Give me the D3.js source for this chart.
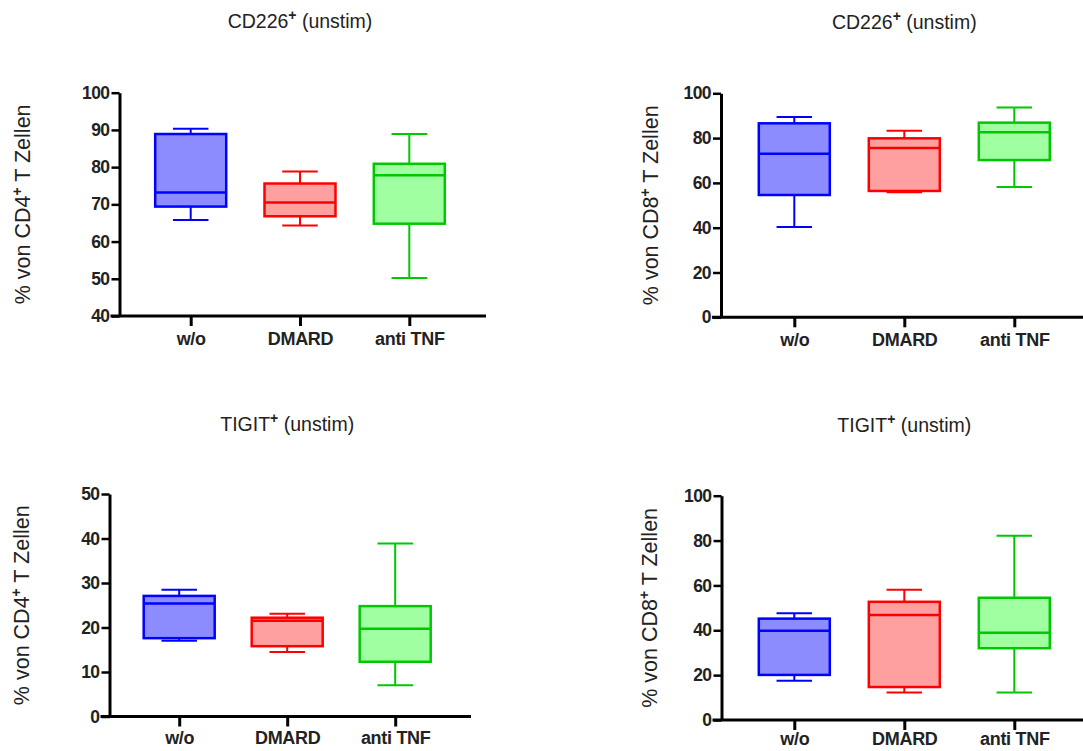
<!DOCTYPE html>
<html>
<head>
<meta charset="utf-8">
<script src="https://cdn.jsdelivr.net/npm/d3@7"></script>
<style>
  body { margin: 0; background: #fff; }
  svg { font-family: "Liberation Sans", Arial, sans-serif; }
</style>
</head>
<body>
<div id="chart"></div>
<script>
// Data (min, q1, median, q3, max) per group

const categories = ["w/o", "DMARD", "anti TNF"];

const cd226CD4 = [
  [65.8, 69.4, 73.2, 88.9, 90.3],
  [64.3, 66.8, 70.5, 75.6, 78.8],
  [50.2, 64.8, 77.8, 80.9, 88.9],
];
const cd226CD8 = [
  [40.3, 54.6, 73.0, 86.6, 89.4],
  [55.8, 56.4, 75.6, 79.9, 83.3],
  [58.2, 70.2, 82.6, 86.9, 93.7],
];
const tigitCD4 = [
  [17.0, 17.6, 25.4, 27.1, 28.5],
  [14.5, 15.8, 21.5, 22.2, 23.1],
  [7.0, 12.3, 19.7, 24.8, 38.9],
];
const tigitCD8 = [
  [17.5, 20.1, 39.8, 45.2, 47.6],
  [12.3, 14.7, 46.8, 52.7, 58.1],
  [12.3, 32.0, 38.9, 54.5, 82.2],
];

const ticksCD226CD4 = [40, 50, 60, 70, 80, 90, 100];
const ticksCD226CD8 = [0, 20, 40, 60, 80, 100];
const ticksTigitCD4 = [0, 10, 20, 30, 40, 50];
const ticksTigitCD8 = [0, 20, 40, 60, 80, 100];

const strokeColors = ["#0000ff", "#ff0000", "#00c800"];
const fillColors = ["#8c8cff", "#ffa0a0", "#a0ffa0"];

const panels = [
  { marker: "CD226", cell: "CD4", data: cd226CD4, ticks: ticksCD226CD4,
    left: 119.5, top: 92.7, bottom: 316, right: 486, first: 71.2, step: 109.3, labelX: 22, titleY: 28, pad: 6 },
  { marker: "CD226", cell: "CD8", data: cd226CD8, ticks: ticksCD226CD8,
    left: 721, top: 93.3, bottom: 317.3, right: 1090, first: 73.3, step: 110, labelX: 650, titleY: 29, pad: 6 },
  { marker: "TIGIT", cell: "CD4", data: tigitCD4, ticks: ticksTigitCD4,
    left: 109.5, top: 494, bottom: 716.5, right: 471, first: 69.7, step: 108, labelX: 21, titleY: 431, pad: 5 },
  { marker: "TIGIT", cell: "CD8", data: tigitCD8, ticks: ticksTigitCD8,
    left: 721.5, top: 495.7, bottom: 720, right: 1090, first: 72.8, step: 110, labelX: 649, titleY: 432, pad: 2 },
];

const width = 1083;
const height = 751;
const textColor = "#222";

const svg = d3
  .select("#chart")
  .append("svg")
  .attr("width", width)
  .attr("height", height);

panels.forEach((p) => {
  const g = svg.append("g");

  const yScale = d3
    .scaleLinear()
    .domain(d3.extent(p.ticks))
    .range([p.bottom, p.top]);

  const xScale = d3
    .scalePoint()
    .domain(categories)
    .range([p.left + p.first, p.left + p.first + 2 * p.step]);

  const boxWidth = 71;

  // Boxes

  const box = g
    .selectAll(".box")
    .data(p.data)
    .enter()
    .append("g")
    .attr("transform", (d, i) => `translate(${xScale(categories[i])},0)`);

  // whiskers
  box
    .append("line")
    .attr("y1", (d) => yScale(d[3]))
    .attr("y2", (d) => yScale(d[4]))
    .attr("stroke", (d, i) => strokeColors[i])
    .attr("stroke-width", 2);
  box
    .append("line")
    .attr("y1", (d) => yScale(d[0]))
    .attr("y2", (d) => yScale(d[1]))
    .attr("stroke", (d, i) => strokeColors[i])
    .attr("stroke-width", 2);
  box
    .selectAll(".cap")
    .data((d, i) => [
      { v: d[0], i },
      { v: d[4], i },
    ])
    .enter()
    .append("line")
    .attr("x1", -boxWidth / 4)
    .attr("x2", boxWidth / 4)
    .attr("y1", (d) => yScale(d.v))
    .attr("y2", (d) => yScale(d.v))
    .attr("stroke", (d) => strokeColors[d.i])
    .attr("stroke-width", 2);

  box
    .append("rect")
    .attr("x", -boxWidth / 2)
    .attr("width", boxWidth)
    .attr("y", (d) => yScale(d[3]))
    .attr("height", (d) => yScale(d[1]) - yScale(d[3]))
    .attr("fill", (d, i) => fillColors[i])
    .attr("stroke", (d, i) => strokeColors[i])
    .attr("stroke-width", 2.5);

  box
    .append("line")
    .attr("x1", -boxWidth / 2)
    .attr("x2", boxWidth / 2)
    .attr("y1", (d) => yScale(d[2]))
    .attr("y2", (d) => yScale(d[2]))
    .attr("stroke", (d, i) => strokeColors[i])
    .attr("stroke-width", 2.5);

  // Axis

  const yAxis = g
    .append("g")
    .attr("transform", `translate(${p.left},0)`)
    .call(d3.axisLeft(yScale).tickValues(p.ticks).tickSize(8).tickSizeOuter(0).tickPadding(2));
  yAxis.select(".domain").attr("stroke", "#000").attr("stroke-width", 3);
  yAxis.selectAll(".tick line").attr("stroke", "#000").attr("stroke-width", 2.5);
  yAxis
    .selectAll(".tick text")
    .attr("fill", textColor)
    .style("font-size", "17.5px")
    .style("font-weight", "bold")
    .style("letter-spacing", "-0.6px");

  const xAxis = g
    .append("g")
    .attr("transform", `translate(0,${p.bottom})`)
    .call(d3.axisBottom(xScale).tickSize(10).tickPadding(p.pad));
  xAxis.select(".domain").remove();
  xAxis.selectAll(".tick line").attr("stroke", "#000").attr("stroke-width", 3);
  xAxis
    .selectAll(".tick text")
    .attr("fill", textColor)
    .style("font-size", "18px")
    .style("font-weight", "bold")
    .style("letter-spacing", "-0.3px");

  g.append("line")
    .attr("x1", p.left - 9)
    .attr("x2", p.right)
    .attr("y1", p.bottom)
    .attr("y2", p.bottom)
    .attr("stroke", "#000")
    .attr("stroke-width", 3);

  // Title

  const title = g
    .append("text")
    .attr("x", xScale(categories[1]))
    .attr("y", p.titleY)
    .attr("text-anchor", "middle")
    .attr("fill", textColor)
    .style("font-size", "19.5px");
  title.append("tspan").text(p.marker);
  title.append("tspan").attr("dy", -8).style("font-size", "14px").style("font-weight", "bold").text("+");
  title.append("tspan").attr("dy", 8).text(" (unstim)");

  // Y label

  const label = g
    .append("text")
    .attr("transform", `translate(${p.labelX},${(p.top + p.bottom) / 2}) rotate(-90)`)
    .attr("dy", "0.35em")
    .attr("text-anchor", "middle")
    .attr("fill", textColor)
    .style("font-size", "21.5px");
  label.append("tspan").text(`% von ${p.cell}`);
  label.append("tspan").attr("dy", -8).style("font-size", "14px").style("font-weight", "bold").text("+");
  label.append("tspan").attr("dy", 8).text(" T Zellen");
});
</script>
</body>
</html>
